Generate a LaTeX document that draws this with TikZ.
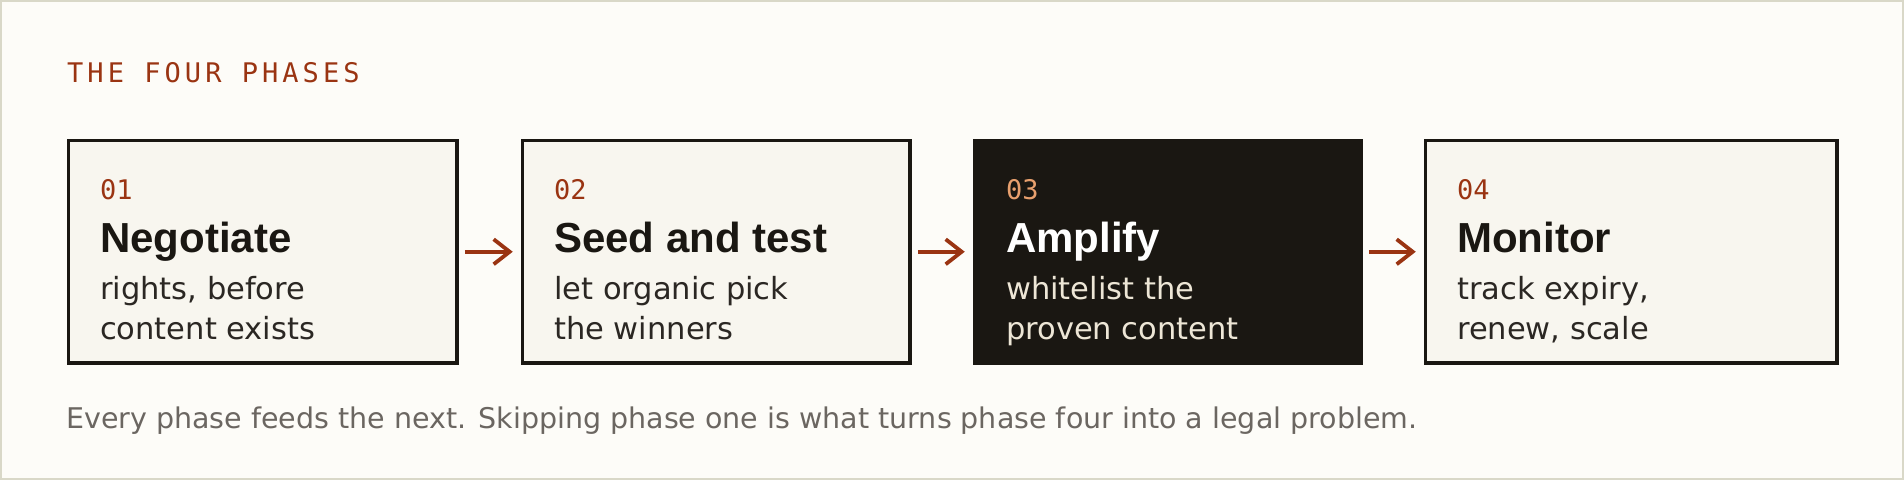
\documentclass[tikz,border=0pt]{standalone}
\usepackage{fontspec}
\usetikzlibrary{arrows.meta}
\setmainfont{DejaVu Sans}
\newfontfamily\headfont{Liberation Sans}
\newfontfamily\codefont{DejaVu Sans Mono}
\newfontfamily\capsfont[LetterSpace=15]{DejaVu Sans Mono}
\definecolor{frame}{HTML}{D9D8C8}
\definecolor{paper}{HTML}{FDFCF8}
\definecolor{card}{HTML}{F8F6EF}
\definecolor{ink}{HTML}{1A1712}
\definecolor{body}{HTML}{2B2723}
\definecolor{rust}{HTML}{9A3412}
\definecolor{peach}{HTML}{E8A06E}
\definecolor{cream}{HTML}{EDE6D6}
\definecolor{muted}{HTML}{6B6661}
\begin{document}
\begin{tikzpicture}[x=1pt,y=-1pt]
		\tikzstyle{phase}=[rectangle,draw=ink,fill=card,line width=3.5pt,minimum height=222.5pt,inner sep=0pt,anchor=north west]
		\tikzstyle{num}=[anchor=base west,inner sep=0pt,text=rust,font=\codefont\fontsize{27}{31}\selectfont]
		\tikzstyle{head}=[anchor=base west,inner sep=0pt,text=ink,font=\headfont\bfseries\fontsize{42}{48}\selectfont]
		\tikzstyle{desc}=[anchor=base west,inner sep=0pt,text=body,font=\fontsize{30.5}{39.5}\selectfont]
		\tikzstyle{flow}=[-{Straight Barb[length=16pt,width=25pt]},draw=rust,line width=3.8pt,shorten <=6pt,shorten >=8pt]
		
		% page
		\fill[frame] (0,0) rectangle (1904,480);
		\fill[paper] (2,2) rectangle (1902,478);
		\node[anchor=base west,inner sep=0pt,text=rust,font=\capsfont\fontsize{27}{32}\selectfont] (title) at (67,82.5) {THE FOUR PHASES};
		
		\begin{scope}
		\node[phase,minimum width=388.5pt] (p1) at (66.75,138.75) {};
		\node[phase,minimum width=387.5pt] (p2) at (520.75,138.75) {};
		\node[phase,minimum width=386.5pt,draw=ink,fill=ink] (p3) at (972.75,138.75) {};
		\node[phase,minimum width=411.5pt] (p4) at (1423.75,138.75) {};
		\end{scope}
		
		\node[num] (n1) at (100,199) {01};
		\node[head] (t1) at (100,252) {Negotiate};
		\node[desc] (d1) at (100,299.5) {rights, before};
		\node[desc] (e1) at (100,339) {content exists};
		
		\node[num] (n2) at (554,199) {02};
		\node[head] (t2) at (554,252) {Seed and test};
		\node[desc] (d2) at (554,299.5) {let organic pick};
		\node[desc] (e2) at (554,339) {the winners};
		
		\node[num,text=peach] (n3) at (1006,199) {03};
		\node[head,text=white] (t3) at (1006,252) {Amplify};
		\node[desc,text=cream] (d3) at (1006,299.5) {whitelist the};
		\node[desc,text=cream] (e3) at (1006,339) {proven content};
		
		\node[num] (n4) at (1457,199) {04};
		\node[head] (t4) at (1457,252) {Monitor};
		\node[desc] (d4) at (1457,299.5) {track expiry,};
		\node[desc] (e4) at (1457,339) {renew, scale};
		
		\node[anchor=base west,inner sep=0pt,text=muted,font=\fontsize{28.5}{34}\selectfont] (note) at (66,428) {Every phase feeds the next. Skipping phase one is what turns phase four into a legal problem.};
		
		\path
		(p1) edge[flow] (p2)
		(p2) edge[flow] (p3)
		(p3) edge[flow] (p4)
		;
		\end{tikzpicture}
\end{document}
